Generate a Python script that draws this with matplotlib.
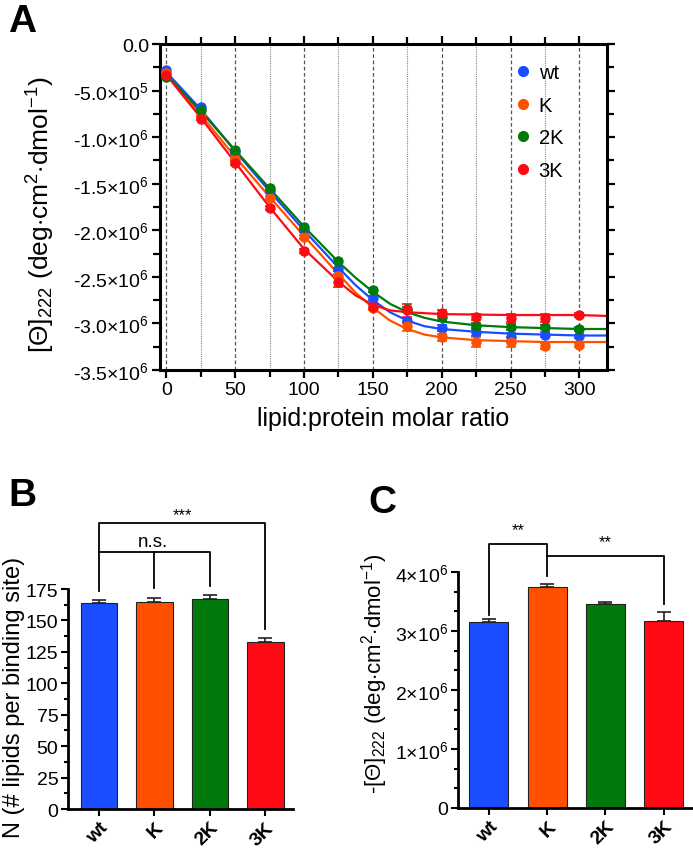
import numpy as np
import matplotlib
matplotlib.use("Agg")
import matplotlib.pyplot as plt
from matplotlib.lines import Line2D
from matplotlib.ticker import MultipleLocator, AutoMinorLocator, FuncFormatter

plt.rcParams["font.family"] = ["Liberation Sans", "DejaVu Sans"]
plt.rcParams["mathtext.fontset"] = "custom"
plt.rcParams["mathtext.rm"] = "Liberation Sans"
plt.rcParams["mathtext.it"] = "Liberation Sans:italic"
plt.rcParams["mathtext.bf"] = "Liberation Sans:bold"

# ---- data: panel A (titration) ----
ratio = [0, 25, 50, 75, 100, 125, 150, 175, 200, 225, 250, 275, 300]
wt_pts = [-2.8e5, -6.8e5, -1.16e6, -1.58e6, -2.00e6, -2.42e6, -2.73e6, -2.97e6, -3.05e6, -3.09e6, -3.15e6, -3.12e6, -3.14e6]
K_pts = [-3.1e5, -7.7e5, -1.23e6, -1.65e6, -2.07e6, -2.49e6, -2.83e6, -3.03e6, -3.15e6, -3.20e6, -3.20e6, -3.24e6, -3.23e6]
K2_pts = [-3.5e5, -7.1e5, -1.14e6, -1.55e6, -1.97e6, -2.33e6, -2.64e6, -2.85e6, -2.93e6, -3.03e6, -3.04e6, -3.04e6, -3.06e6]
K3_pts = [-3.3e5, -8.0e5, -1.28e6, -1.76e6, -2.22e6, -2.56e6, -2.82e6, -2.86e6, -2.89e6, -2.93e6, -2.94e6, -2.94e6, -2.91e6]
wt_err = [1e4, 1e4, 1e4, 1.5e4, 1.5e4, 2e4, 2e4, 3e4, 3e4, 4e4, 5e4, 3e4, 2e4]
K_err = [1e4, 1e4, 1.5e4, 1.5e4, 2e4, 2e4, 3e4, 5e4, 4e4, 5e4, 5e4, 3e4, 2e4]
K2_err = [1e4, 1e4, 1e4, 1.5e4, 1.5e4, 2e4, 2e4, 3e4, 4e4, 3e4, 3e4, 2e4, 2e4]
K3_err = [1e4, 1.5e4, 1.5e4, 2e4, 2e4, 5e4, 3e4, 7e4, 3e4, 3e4, 4e4, 4e4, 2e4]

# fitted curves
fit_x = [0, 25, 50, 75, 100, 125, 137.5, 150, 162.5, 175, 187.5, 200, 225, 250, 275, 300, 320]
wt_fit = [-3.0e5, -7.0e5, -1.15e6, -1.58e6, -2.00e6, -2.40e6, -2.59e6, -2.75e6, -2.88e6, -2.97e6, -3.03e6, -3.06e6, -3.09e6, -3.11e6, -3.12e6, -3.13e6, -3.13e6]
K_fit = [-3.2e5, -7.6e5, -1.21e6, -1.64e6, -2.06e6, -2.47e6, -2.67e6, -2.83e6, -2.97e6, -3.06e6, -3.12e6, -3.15e6, -3.18e6, -3.19e6, -3.20e6, -3.20e6, -3.20e6]
K2_fit = [-3.3e5, -7.2e5, -1.14e6, -1.55e6, -1.96e6, -2.34e6, -2.51e6, -2.66e6, -2.79e6, -2.88e6, -2.94e6, -2.98e6, -3.02e6, -3.04e6, -3.05e6, -3.06e6, -3.06e6]
K3_fit = [-3.3e5, -7.9e5, -1.27e6, -1.75e6, -2.20e6, -2.55e6, -2.70e6, -2.80e6, -2.86e6, -2.88e6, -2.89e6, -2.90e6, -2.905e6, -2.91e6, -2.91e6, -2.91e6, -2.92e6]

# ---- data: panels B and C ----
groups = ["wt", "K", "2K", "3K"]
colors = ["#1a4dff", "#ff5000", "#007a0a", "#ff0a14"]
N_vals = [164, 165, 167, 133]
N_err = [2.5, 3, 3, 3]
theta_vals = [3.16e6, 3.75e6, 3.45e6, 3.17e6]
theta_err = [0.04e6, 0.04e6, 0.035e6, 0.15e6]

fig = plt.figure(figsize=(6.93, 8.54), dpi=100)

# ================= panel A =================
axA = fig.add_axes([0.2309, 0.5656, 0.645, 0.3817])
series = [(wt_pts, wt_err, wt_fit), (K_pts, K_err, K_fit), (K2_pts, K2_err, K2_fit), (K3_pts, K3_err, K3_fit)]
for xg in range(0, 301, 25):
    if xg % 50 == 0:
        axA.axvline(xg, color="#555555", lw=0.9, ls=(0, (3, 2)), zorder=0)
    else:
        axA.axvline(xg, color="#888888", lw=0.8, ls=(0, (1, 1)), zorder=0)
handles = []
for (pts, err, fit), c, name in zip(series, colors, groups):
    axA.plot(fit_x, fit, color=c, lw=1.6, zorder=2)
    axA.errorbar(ratio, pts, yerr=err, fmt="o", color=c, ms=6.5, capsize=3.5,
                 elinewidth=1.2, capthick=1.2, zorder=3)
    handles.append(Line2D([], [], marker="o", ls="", color=c, ms=7, label=name))

axA.set_xlim(-4.5, 320)
axA.set_ylim(-3.5e6, 0)
axA.xaxis.set_major_locator(MultipleLocator(50))
axA.xaxis.set_minor_locator(MultipleLocator(25))
axA.yaxis.set_major_locator(MultipleLocator(5e5))
axA.yaxis.set_minor_locator(MultipleLocator(2.5e5))


def sci_a(v, pos):
    if v == 0:
        return "0.0"
    e = int(np.floor(np.log10(abs(v))))
    m = v / 10 ** e
    return r"%.1f$\times$10$^{%d}$" % (m, e)


axA.yaxis.set_major_formatter(FuncFormatter(sci_a))
axA.tick_params(which="both", direction="out", top=True, right=True, width=1.6, labelsize=14, pad=2)
axA.tick_params(which="major", length=6)
axA.tick_params(which="minor", length=5)
for s in axA.spines.values():
    s.set_linewidth(2.2)
axA.set_xlabel("lipid:protein molar ratio", fontsize=18, labelpad=6)
axA.set_ylabel(r"[$\Theta$]$_{222}$ (deg$\cdot$cm$^2$$\cdot$dmol$^{-1}$)", fontsize=19)
axA.yaxis.set_label_coords(-0.23, 0.48)
axA.legend(handles=handles, loc="upper left", bbox_to_anchor=(0.757, 0.985), frameon=False, fontsize=14.5,
           handletextpad=0.3, labelspacing=0.68, handlelength=1.0, borderpad=0.2)
fig.text(0.012, 0.962, "A", fontsize=28, fontweight="bold")

# ================= panel B =================
x = np.arange(len(groups))
axB = fig.add_axes([0.0981, 0.0515, 0.3247, 0.2576])
axB.bar(x, N_vals, width=0.66, color=colors, edgecolor="#222222", linewidth=0.8, zorder=2)
axB.errorbar(x, N_vals, yerr=[np.zeros(4), N_err], fmt="none", ecolor="#222222",
             elinewidth=1.2, capsize=5, capthick=1.2, zorder=3)
axB.set_xlim(-0.56, 3.5)
axB.set_ylim(0, 175)
axB.yaxis.set_major_locator(MultipleLocator(25))
axB.yaxis.set_minor_locator(AutoMinorLocator(2))
axB.set_xticks(x)
axB.set_xticklabels(groups, rotation=45, ha="right", rotation_mode="anchor", fontweight="bold", fontsize=15)
axB.tick_params(which="both", direction="out", width=1.5, labelsize=14, pad=2)
axB.tick_params(which="major", length=5)
axB.tick_params(which="minor", length=3)
axB.spines["top"].set_visible(False)
axB.spines["right"].set_visible(False)
for s in ["left", "bottom"]:
    axB.spines[s].set_linewidth(2)
axB.set_ylabel("N (# lipids per binding site)", fontsize=17)
axB.yaxis.set_label_coords(-0.19, 0.514)
# significance brackets
kw = dict(color="black", lw=1.3, clip_on=False)
axB.plot([0, 0, 3, 3], [173.4, 227.5, 227.5, 143], **kw)
axB.plot([0, 2, 2], [204.5, 204.5, 177.4], **kw)
axB.plot([1, 1], [204.5, 175.8], **kw)
axB.text(1.5, 234, "***", ha="center", va="center", fontsize=12)
axB.text(0.98, 213, "n.s.", ha="center", va="center", fontsize=13.5)
fig.text(0.012, 0.407, "B", fontsize=28, fontweight="bold")

# ================= panel C =================
axC = fig.add_axes([0.6609, 0.0527, 0.339, 0.2763])
axC.bar(x, theta_vals, width=0.67, color=colors, edgecolor="#222222", linewidth=0.8, zorder=2)
axC.errorbar(x, theta_vals, yerr=[np.zeros(4), theta_err], fmt="none", ecolor="#222222",
             elinewidth=1.2, capsize=5, capthick=1.2, zorder=3)
axC.set_xlim(-0.53, 3.5)
axC.set_ylim(0, 4e6)
axC.yaxis.set_major_locator(MultipleLocator(1e6))
axC.yaxis.set_minor_locator(AutoMinorLocator(3))


def sci_c(v, pos):
    if v == 0:
        return "0"
    return r"%d$\times$10$^{6}$" % round(v / 1e6)


axC.yaxis.set_major_formatter(FuncFormatter(sci_c))
axC.set_xticks(x)
axC.set_xticklabels(groups, rotation=45, ha="right", rotation_mode="anchor", fontweight="bold", fontsize=15)
axC.tick_params(which="both", direction="out", width=1.5, labelsize=14, pad=2)
axC.tick_params(which="major", length=5)
axC.tick_params(which="minor", length=3)
axC.spines["top"].set_visible(False)
axC.spines["right"].set_visible(False)
for s in ["left", "bottom"]:
    axC.spines[s].set_linewidth(2)
axC.set_ylabel(r"-[$\Theta$]$_{222}$ (deg$\cdot$cm$^2$$\cdot$dmol$^{-1}$)", fontsize=16)
axC.yaxis.set_label_coords(-0.29, 0.575)
axC.plot([0, 0, 1, 1], [3.28e6, 4.475e6, 4.475e6, 3.94e6], **kw)
axC.plot([1, 3, 3], [4.28e6, 4.28e6, 3.46e6], **kw)
axC.text(0.5, 4.72e6, "**", ha="center", va="center", fontsize=12)
axC.text(2.0, 4.52e6, "**", ha="center", va="center", fontsize=12)
fig.text(0.532, 0.399, "C", fontsize=28, fontweight="bold")

fig.savefig("out.png", dpi=100)
